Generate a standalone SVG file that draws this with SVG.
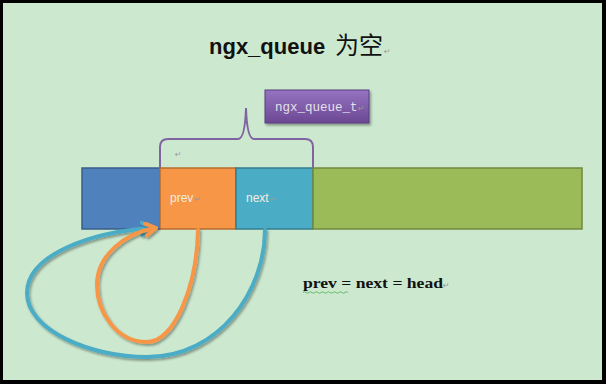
<svg xmlns="http://www.w3.org/2000/svg" width="606" height="384" viewBox="0 0 606 384">
<defs>
<style>
.cell{stroke-width:1.5}
.lbl{font-family:"Liberation Sans",Arial,sans-serif;font-size:12px;fill:#f4ece0}
.pm{font-family:"DejaVu Sans",sans-serif;font-size:8px;fill:#9a9a9a}
.arr{fill:none;stroke-width:4;stroke-linecap:round;filter:url(#sh)}
</style>
<linearGradient id="pg" x1="0" y1="0" x2="0" y2="1">
<stop offset="0" stop-color="#9673c2"/>
<stop offset="1" stop-color="#6c4893"/>
</linearGradient>
<filter id="sh" x="-20%" y="-20%" width="140%" height="140%">
<feDropShadow dx="1.5" dy="2" stdDeviation="1.2" flood-color="#000" flood-opacity="0.35"/>
</filter>
<marker id="mt" markerUnits="userSpaceOnUse" markerWidth="20" markerHeight="20" refX="12" refY="8" orient="auto">
<path d="M2,2 L12,8 L2,14" fill="none" stroke="#4bacc6" stroke-width="4" stroke-linecap="round" stroke-linejoin="round"/>
</marker>
<marker id="mo" markerUnits="userSpaceOnUse" markerWidth="20" markerHeight="20" refX="12" refY="8" orient="auto">
<path d="M2,2 L12,8 L2,14" fill="none" stroke="#f79646" stroke-width="4" stroke-linecap="round" stroke-linejoin="round"/>
</marker>
</defs>
<rect x="0" y="0" width="606" height="384" fill="#000"/>
<rect x="3" y="3" width="599" height="377" fill="#cce8cf"/>

<g id="title">
<text x="209" y="54" font-family="'Liberation Sans',Arial,sans-serif" font-size="22" font-weight="bold" fill="#111">ngx_queue</text>
<text x="335" y="54" font-family="'Noto Sans CJK SC',sans-serif" font-size="24" fill="#111">为空</text>
<text x="384" y="54" class="pm">↵</text>
</g>

<g id="ngx_queue_t">
<rect x="265" y="90" width="104" height="33" fill="url(#pg)" stroke="#5a3d7f" stroke-width="1" filter="url(#sh)"/>
<text x="275" y="111" font-family="'Liberation Mono','Courier New',monospace" font-size="12.5" fill="#e4e0ea">ngx_queue_t</text>
<text x="358" y="111" class="pm">↵</text>
</g>

<g id="brace">
<path d="M160,168 V147 Q160,139 168,139 H238 Q245,139 246,108 Q247,139 254,139 H305 Q313,139 313,147 V168" fill="none" stroke="#8064a2" stroke-width="2"/>
<text x="175" y="157" class="pm">↵</text>
</g>

<g id="cell-head">
<rect class="cell" x="82" y="168" width="78" height="61" fill="#4f81bd" stroke="#385d8a"/>
</g>
<g id="cell-prev">
<rect class="cell" x="160" y="168" width="76" height="61" fill="#f79646" stroke="#b66d31"/>
<text x="170" y="202" class="lbl">prev</text>
<text x="194" y="202" class="pm">↵</text>
</g>
<g id="cell-next">
<rect class="cell" x="236" y="168" width="77" height="61" fill="#4bacc6" stroke="#357d91"/>
<text x="246" y="202" class="lbl">next</text>
<text x="270" y="202" class="pm">↵</text>
</g>
<g id="cell-rest">
<rect class="cell" x="313" y="168" width="269" height="61" fill="#9bbb59" stroke="#71893f"/>
</g>

<g id="connectors">
<path class="arr" stroke="#4bacc6" marker-end="url(#mt)" d="M265,230 C265,290 220,357 147,357 C90,357 27,330 27,293 C27,255 90,232 152,228"/>
<path class="arr" stroke="#f79646" marker-end="url(#mo)" d="M198,230 C197,285 175,342 147,342 C115,342 97,310 97,285 C97,255 125,233 156,228"/>
</g>

<g id="equation">
<text x="303" y="288" font-family="'Liberation Serif','Times New Roman',serif" font-size="15" font-weight="bold" fill="#111" textLength="140" lengthAdjust="spacingAndGlyphs">prev = next = head</text>
<text x="443" y="288" class="pm">↵</text>
<path d="M303,292.5 q1.5,-1.5 3,0 t3,0 t3,0 t3,0 t3,0 t3,0 t3,0 t3,0 t3,0 t3,0 t3,0 t3,0 t3,0 t3,0 t3,0" fill="none" stroke="#4caf50" stroke-width="0.8"/>
</g>
</svg>
